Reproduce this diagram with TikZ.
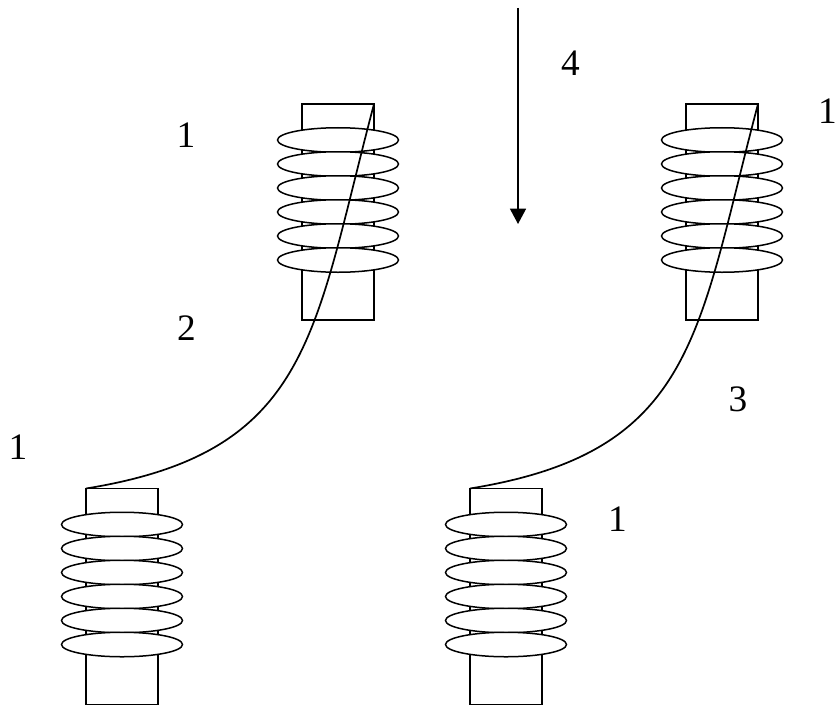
\documentclass[tikz,border=0pt]{standalone}
\usepackage{fontspec}
\setmainfont{Liberation Serif}
\usetikzlibrary{arrows.meta,shapes.geometric}
\tikzset{
  body/.style={draw,line width=1.5*0.75pt,minimum width=72*0.75pt,minimum height=216*0.75pt,inner sep=0pt,outer sep=0pt},
  shed/.style={draw,fill=white,ellipse,line width=1.5*0.75pt,minimum width=121*0.75pt,minimum height=24.5*0.75pt,inner sep=0pt,outer sep=0pt},
  lead/.style={line width=1.7*0.75pt},
  flow/.style={line width=1.5*0.75pt,-{Triangle[length=11.5pt,width=12pt]}},
  lab/.style={inner sep=0pt,font=\fontsize{28}{28}\selectfont}
}
\newcommand{\insulator}[3]{%
  \node[body] (#1) at (#2,#3) {};
  \foreach \k in {0,...,5} {
    \node[shed] (#1s\k) at (#2,#3-72+24*\k) {};
  }
}
\begin{document}
\begin{tikzpicture}[x=0.75pt,y=-0.75pt]
\useasboundingbox (0,0) rectangle (837,706);
\insulator{ul}{338}{212}
\insulator{ur}{722}{212}
\insulator{ll}{122}{596.5}
\insulator{lr}{506}{596.5}
\draw[lead] (ul.north east) .. controls (313,334) and (312,452) .. (ll.north west);
\draw[lead] (ur.north east) .. controls (697,334) and (696,452) .. (lr.north west);
\coordinate (a0) at (518,8);
\coordinate (a1) at (518,224);
\draw[flow] (a0) -- (a1);
\node[lab] (t1) at (186,135.5) {1};
\node[lab] (t2) at (186.5,328) {2};
\node[lab] (t3) at (18,447) {1};
\node[lab] (t4) at (570.5,63) {4};
\node[lab] (t5) at (827.5,111) {1};
\node[lab] (t6) at (738,399.5) {3};
\node[lab] (t7) at (617.5,519) {1};
\end{tikzpicture}
\end{document}
